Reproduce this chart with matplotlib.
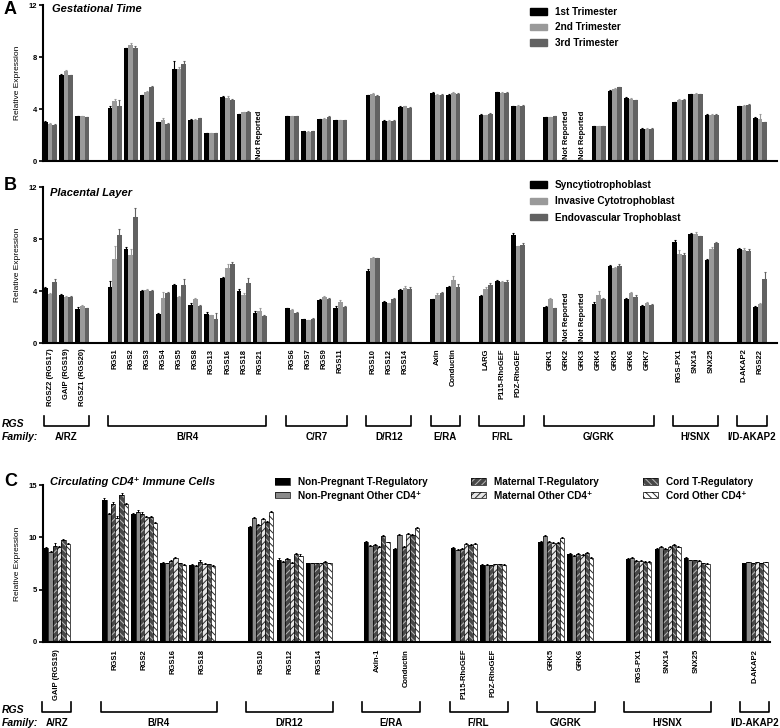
import numpy as np
import matplotlib
matplotlib.use("Agg")
import matplotlib.pyplot as plt
from matplotlib.patches import Patch
from matplotlib import transforms

plt.rcParams["font.family"] = ["Liberation Sans", "DejaVu Sans"]
plt.rcParams["hatch.linewidth"] = 0.7

nan = np.nan
W, H = 780, 728

# ---- panels A and B: same gene list ----
GENES_AB = ["RGSZ2 (RGS17)", "GAIP (RGS19)", "RGSZ1 (RGS20)",
            "RGS1", "RGS2", "RGS3", "RGS4", "RGS5", "RGS8", "RGS13", "RGS16", "RGS18", "RGS21",
            "RGS6", "RGS7", "RGS9", "RGS11",
            "RGS10", "RGS12", "RGS14",
            "Axin", "Conductin",
            "LARG", "P115-RhoGEF", "PDZ-RhoGEF",
            "GRK1", "GRK2", "GRK3", "GRK4", "GRK5", "GRK6", "GRK7",
            "RGS-PX1", "SNX14", "SNX25",
            "D-AKAP2", "RGS22"]
FAMILIES_AB = [("A/RZ", 3), ("B/R4", 10), ("C/R7", 4), ("D/R12", 3), ("E/RA", 2),
               ("F/RL", 3), ("G/GRK", 7), ("H/SNX", 3), ("I/D-AKAP2", 2)]

# A: gestational time
TRI1 = [3.0, 6.63, 3.44, 4.06, 8.67, 5.05, 2.98, 7.07, 3.19, 2.12, 4.9, 3.6, nan,
        3.45, 2.3, 3.2, 3.15, 5.05, 3.1, 4.15, 5.23, 5.1, 3.57, 5.28, 4.2,
        3.39, nan, nan, 2.68, 5.41, 4.85, 2.5, 4.52, 5.13, 3.57, 4.2, 3.27]
TRI2 = [2.88, 6.89, 3.44, 4.59, 8.93, 5.31, 3.14, 7.1, 3.19, 2.12, 4.85, 3.75, nan,
        3.45, 2.25, 3.25, 3.15, 5.15, 3.1, 4.2, 5.1, 5.23, 3.52, 5.23, 4.26,
        3.39, nan, nan, 2.68, 5.54, 4.77, 2.5, 4.72, 5.15, 3.57, 4.26, 3.24]
TRI3 = [2.8, 6.58, 3.39, 4.26, 8.67, 5.66, 2.86, 7.47, 3.27, 2.12, 4.7, 3.8, nan,
        3.45, 2.3, 3.35, 3.15, 5.0, 3.1, 4.08, 5.1, 5.18, 3.65, 5.23, 4.26,
        3.44, nan, nan, 2.68, 5.66, 4.67, 2.5, 4.72, 5.13, 3.55, 4.34, 2.98]
TRI1_ERR = [0.05, 0.05, 0.03, 0.2, 0.05, 0.05, 0.05, 0.6, 0.03, 0.03, 0.1, 0.05, nan,
            0.03, 0.03, 0.05, 0.03, 0.05, 0.03, 0.05, 0.05, 0.05, 0.05, 0.05, 0.03,
            0.03, nan, nan, 0.03, 0.05, 0.05, 0.03, 0.05, 0.05, 0.03, 0.05, 0.15]
TRI2_ERR = [0.05, 0.1, 0.03, 0.2, 0.15, 0.05, 0.2, 0.15, 0.03, 0.03, 0.15, 0.05, nan,
            0.03, 0.03, 0.05, 0.03, 0.05, 0.03, 0.05, 0.05, 0.05, 0.05, 0.05, 0.03,
            0.03, nan, nan, 0.03, 0.05, 0.05, 0.03, 0.05, 0.05, 0.03, 0.05, 0.35]
TRI3_ERR = [0.03, 0.05, 0.03, 0.45, 0.15, 0.1, 0.03, 0.2, 0.03, 0.03, 0.05, 0.05, nan,
            0.03, 0.03, 0.1, 0.03, 0.05, 0.03, 0.05, 0.05, 0.05, 0.05, 0.05, 0.03,
            0.03, nan, nan, 0.03, 0.05, 0.05, 0.03, 0.05, 0.05, 0.03, 0.05, 0.05]

# B: placental layer
SYN = [4.25, 3.68, 2.58, 4.3, 7.26, 3.99, 2.2, 4.45, 2.89, 2.2, 5.01, 3.99, 2.33,
       2.66, 1.82, 3.27, 2.71, 5.52, 3.15, 4.07, 3.35, 4.32, 3.6, 4.76, 8.34,
       2.76, nan, nan, 3.02, 5.91, 3.4, 2.84, 7.75, 8.41, 6.37, 7.24, 2.76]
INV = [3.79, 3.53, 2.84, 6.47, 6.8, 4.07, 3.48, 3.53, 3.4, 2.12, 5.78, 3.73, 2.46,
       2.53, 1.74, 3.53, 3.15, 6.55, 3.04, 4.25, 3.73, 4.88, 4.19, 4.68, 7.44,
       3.35, nan, nan, 3.73, 5.78, 3.81, 3.04, 6.88, 8.41, 7.26, 7.19, 3.02]
ENDO = [4.71, 3.53, 2.66, 8.34, 9.7, 3.99, 3.81, 4.5, 2.84, 1.82, 6.11, 4.58, 2.07,
        2.33, 1.82, 3.35, 2.76, 6.52, 3.4, 4.19, 3.81, 4.32, 4.5, 4.68, 7.57,
        2.66, nan, nan, 3.4, 5.96, 3.53, 2.94, 6.75, 8.21, 7.7, 7.11, 4.94]
SYN_ERR = [0.05, 0.1, 0.2, 0.45, 0.1, 0.05, 0.1, 0.1, 0.2, 0.15, 0.05, 0.15, 0.1,
           0.05, 0.05, 0.1, 0.1, 0.2, 0.05, 0.1, 0.05, 0.1, 0.1, 0.1, 0.1,
           0.05, nan, nan, 0.1, 0.1, 0.1, 0.1, 0.15, 0.05, 0.1, 0.05, 0.05]
INV_ERR = [0.05, 0.05, 0.1, 1.0, 0.4, 0.05, 0.45, 0.05, 0.1, 0.05, 0.3, 0.1, 0.2,
           0.05, 0.05, 0.1, 0.15, 0.1, 0.05, 0.15, 0.1, 0.3, 0.1, 0.1, 0.05,
           0.1, nan, nan, 0.3, 0.05, 0.1, 0.1, 0.3, 0.1, 0.1, 0.1, 0.05]
ENDO_ERR = [0.2, 0.05, 0.05, 0.45, 0.65, 0.05, 0.15, 0.4, 0.05, 0.45, 0.1, 0.4, 0.1,
            0.05, 0.1, 0.15, 0.05, 0.05, 0.1, 0.1, 0.1, 0.2, 0.1, 0.15, 0.1,
            0.05, nan, nan, 0.1, 0.1, 0.15, 0.05, 0.2, 0.05, 0.1, 0.1, 0.5]

# ---- panel C: circulating CD4+ cells ----
GENES_C = ["GAIP (RGS19)", "RGS1", "RGS2", "RGS16", "RGS18", "RGS10", "RGS12", "RGS14",
           "Axin-1", "Conductin", "P115-RhoGEF", "PDZ-RhoGEF", "GRK5", "GRK6",
           "RGS-PX1", "SNX14", "SNX25", "D-AKAP2"]
FAMILIES_C = [("A/RZ", 1), ("B/R4", 4), ("D/R12", 3), ("E/RA", 2), ("F/RL", 2),
              ("G/GRK", 2), ("H/SNX", 3), ("I/D-AKAP2", 1)]
NP_TREG = [9.01, 13.57, 12.23, 7.52, 7.36, 10.96, 7.83, 7.52, 9.59, 8.85, 8.95, 7.36, 9.52, 8.38, 7.9, 8.85, 8.06, 7.52]
NP_OTHER = [8.57, 12.2, 12.45, 7.52, 7.26, 11.82, 7.67, 7.52, 9.17, 10.22, 8.79, 7.36, 10.13, 8.22, 7.99, 9.04, 7.83, 7.64]
MAT_TREG = [9.17, 13.15, 12.23, 7.77, 7.67, 11.18, 7.9, 7.52, 9.27, 9.04, 8.92, 7.32, 9.59, 8.38, 7.71, 8.89, 7.83, 7.52]
MAT_OTHER = [9.04, 11.87, 11.97, 7.99, 7.45, 11.75, 7.52, 7.52, 9.11, 10.32, 9.33, 7.42, 9.49, 8.31, 7.77, 9.04, 7.74, 7.61]
CORD_TREG = [9.75, 14.04, 11.91, 7.52, 7.45, 11.5, 8.38, 7.67, 10.13, 10.22, 9.27, 7.45, 9.49, 8.54, 7.61, 9.27, 7.52, 7.52]
CORD_OTHER = [9.33, 13.15, 11.34, 7.36, 7.29, 12.45, 8.22, 7.52, 9.52, 10.92, 9.33, 7.36, 9.9, 8.06, 7.61, 9.11, 7.48, 7.61]
NP_TREG_ERR = [0.1, 0.15, 0.1, 0.1, 0.1, 0.1, 0.15, 0.05, 0.05, 0.1, 0.1, 0.05, 0.1, 0.1, 0.1, 0.1, 0.05, 0.05]
NP_OTHER_ERR = [0.1, 0.15, 0.15, 0.05, 0.05, 0.1, 0.1, 0.05, 0.1, 0.1, 0.05, 0.05, 0.1, 0.1, 0.1, 0.1, 0.05, 0.05]
MAT_TREG_ERR = [0.3, 0.25, 0.15, 0.1, 0.2, 0.1, 0.1, 0.05, 0.1, 0.1, 0.1, 0.05, 0.1, 0.1, 0.1, 0.1, 0.05, 0.05]

LEG_A = ["1st Trimester", "2nd Trimester", "3rd Trimester"]
LEG_B = ["Syncytiotrophoblast", "Invasive Cytotrophoblast", "Endovascular Trophoblast"]
LEG_C = ["Non-Pregnant T-Regulatory", "Non-Pregnant Other CD4\u207a",
         "Maternal T-Regulatory", "Maternal Other CD4\u207a",
         "Cord T-Regulatory", "Cord Other CD4\u207a"]

GRAYS = ["black", "#9a9a9a", "#626262"]
C_STYLES = [("black", None, None), ("#8a8a8a", None, None),
            ("#474747", "/////", "#b8b8b8"), ("#e6e6e6", "/////", "#2a2a2a"),
            ("#474747", "\\\\\\\\\\", "#b8b8b8"), ("white", "\\\\\\\\\\", "#2a2a2a")]


def fy(p):
    return 1 - p / H


def slots(families):
    pos, s = [], 0
    for _, n in families:
        pos.extend(range(s, s + n))
        s += n + 1
    return np.array(pos, dtype=float)


def add_axes_px(fig, left, top, right, bottom):
    return fig.add_axes([left / W, 1 - bottom / H, (right - left) / W, (bottom - top) / H])


def style(ax, ymax, step, left_px, width_px):
    for s in ("top", "right"):
        ax.spines[s].set_visible(False)
    for s in ("left", "bottom"):
        ax.spines[s].set_linewidth(1.5)
    ax.set_ylim(0, ymax)
    ax.set_yticks(np.arange(0, ymax + 0.01, step))
    ax.tick_params(axis="y", length=3, width=1.2, labelsize=5.5, pad=1.5)
    ax.tick_params(axis="x", length=0)
    for lab in ax.get_yticklabels():
        lab.set_fontweight("bold")
    ax.set_ylabel("Relative Expression", fontsize=6)
    ax.yaxis.set_label_coords((21 - left_px) / width_px, 0.5)


def bars3(ax, x, series, errs, w=0.29):
    for i, (vals, err, c) in enumerate(zip(series, errs, GRAYS)):
        vals, err = np.array(vals), np.array(err)
        ok = ~np.isnan(vals)
        xx = x[ok] + (i - 1) * w
        ax.bar(xx, vals[ok], width=w, color=c, linewidth=0)
        ax.errorbar(xx, vals[ok], yerr=[np.zeros(ok.sum()), err[ok]], fmt="none",
                    ecolor=c, elinewidth=0.8, capsize=1, capthick=0.8)


def not_reported(ax, x, series):
    for xi, v in zip(x, series):
        if np.isnan(v):
            ax.text(xi, 0.15, "Not Reported", rotation=90, ha="center", va="bottom",
                    fontsize=5.5, fontweight="bold")


def brackets(fig, ax, x, families, pad, y_top, y_bot, y_lab):
    tr = transforms.blended_transform_factory(ax.transData, fig.transFigure)
    i = 0
    for name, n in families:
        x0, x1 = x[i] - pad, x[i + n - 1] + pad
        ax.plot([x0, x0, x1, x1], [fy(y_top), fy(y_bot), fy(y_bot), fy(y_top)],
                color="black", lw=1.2, transform=tr, clip_on=False)
        ax.text((x0 + x1) / 2, fy(y_lab), name, transform=tr, ha="center", va="center",
                fontsize=7, fontweight="bold")
        i += n
    fig.text(2 / W, fy(y_bot - 2), "RGS", ha="left", va="center", fontsize=7.5,
             fontweight="bold", style="italic")
    fig.text(2 / W, fy(y_lab), "Family:", ha="left", va="center", fontsize=7.5,
             fontweight="bold", style="italic")


def gene_labels(ax, x, genes, pad):
    ax.set_xticks(x)
    ax.set_xticklabels(genes, rotation=90, fontsize=5.5, fontweight="bold", va="top")
    ax.tick_params(axis="x", pad=pad)


def legend_px(fig, handles, labels, left, top, spacing, hl, hh):
    fig.legend(handles, labels, loc="upper left", bbox_to_anchor=(left / W, fy(top)),
               frameon=False, borderpad=0, borderaxespad=0, handlelength=hl,
               handleheight=hh, handletextpad=0.8, labelspacing=spacing,
               prop={"size": 7.2, "weight": "bold"})


def title(ax, x, y, text):
    ax.text(x, y, text, transform=ax.transAxes, ha="left", va="center",
            fontsize=8, fontweight="bold", style="italic")


def main():
    fig = plt.figure(figsize=(W / 100, H / 100), dpi=100)
    xab = slots(FAMILIES_AB)
    xc = slots(FAMILIES_C)

    # A
    axa = add_axes_px(fig, 43, 5, 777, 161)
    bars3(axa, xab, [TRI1, TRI2, TRI3], [TRI1_ERR, TRI2_ERR, TRI3_ERR])
    not_reported(axa, xab, TRI1)
    axa.set_xlim(-0.434, 45.05)
    axa.set_xticks([])
    style(axa, 12, 4, 43, 734)
    title(axa, 0.012, 0.975, "Gestational Time")
    fig.text(4 / W, fy(10), "A", fontsize=13, fontweight="bold", va="center")
    legend_px(fig, [Patch(color=c) for c in GRAYS], LEG_A, 530, 7, 0.55, 1.7, 0.6)

    # B
    axb = add_axes_px(fig, 43, 187, 777, 343)
    bars3(axb, xab, [SYN, INV, ENDO], [SYN_ERR, INV_ERR, ENDO_ERR])
    not_reported(axb, xab, SYN)
    axb.set_xlim(-0.434, 45.05)
    style(axb, 12, 4, 43, 734)
    gene_labels(axb, xab, GENES_AB, 4)
    title(axb, 0.01, 0.96, "Placental Layer")
    fig.text(4 / W, fy(186), "B", fontsize=13, fontweight="bold", va="center")
    legend_px(fig, [Patch(color=c) for c in GRAYS], LEG_B, 530, 180, 0.63, 1.7, 0.6)
    brackets(fig, axb, xab, FAMILIES_AB, 0.4, 416, 426, 437)

    # C
    axc = add_axes_px(fig, 43, 485, 770, 642)
    w = 0.148
    series_c = [NP_TREG, NP_OTHER, MAT_TREG, MAT_OTHER, CORD_TREG, CORD_OTHER]
    errs_c = [NP_TREG_ERR, NP_OTHER_ERR, MAT_TREG_ERR, NP_TREG_ERR, NP_OTHER_ERR, NP_TREG_ERR]
    handles = []
    for i, (vals, err, (fc, hatch, hc)) in enumerate(zip(series_c, errs_c, C_STYLES)):
        xx = xc + (i - 2.5) * w
        axc.bar(xx, vals, width=w, color=fc, edgecolor=hc or fc, hatch=hatch, linewidth=0)
        axc.bar(xx, vals, width=w, fill=False, edgecolor="black", linewidth=0.5)
        axc.errorbar(xx, vals, yerr=[np.zeros(len(vals)), err], fmt="none",
                     ecolor="black", elinewidth=0.7, capsize=0.8, capthick=0.7)
        handles.append((Patch(facecolor=fc, edgecolor=hc or fc, hatch=hatch, linewidth=0),
                        Patch(fill=False, edgecolor="black", linewidth=0.5)))
    axc.set_xlim(-0.48, 24.52)
    style(axc, 15, 5, 43, 727)
    gene_labels(axc, xc, GENES_C, 5)
    title(axc, 0.01, 1.02, "Circulating CD4\u207a Immune Cells")
    fig.text(4 / W, fy(481), "C", fontsize=13, fontweight="bold", va="center")
    for k, left in enumerate([275, 471, 643]):
        legend_px(fig, handles[2 * k:2 * k + 2], LEG_C[2 * k:2 * k + 2], left, 477,
                  0.38, 1.5, 0.6)
    brackets(fig, axc, xc, FAMILIES_C, 0.5, 702, 712, 723)

    fig.savefig("out.png", dpi=100)
    plt.close(fig)


if __name__ == "__main__":
    main()
